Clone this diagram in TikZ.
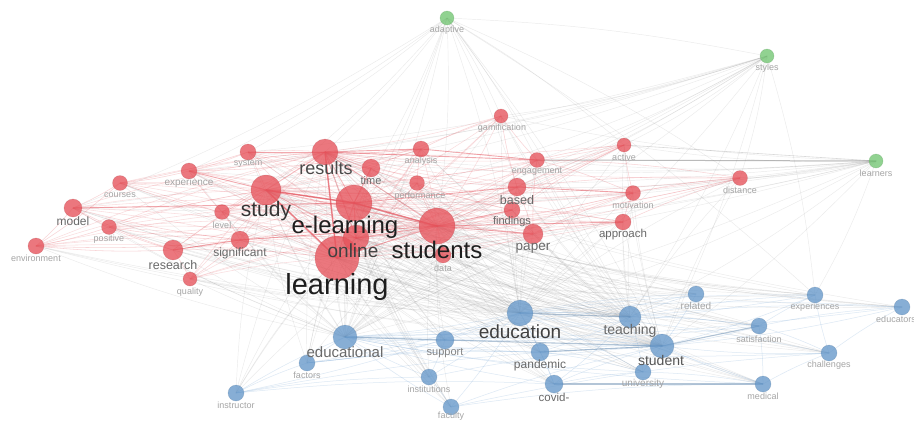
\documentclass[tikz,border=0pt]{standalone}
\usepackage{fontspec}
\setmainfont{Liberation Sans}
\usetikzlibrary{backgrounds}
\newcommand{\fsz}[1]{\fontsize{#1}{#1}\selectfont}
\definecolor{rfill}{RGB}{230,82,90}
\definecolor{bfill}{RGB}{102,152,202}
\definecolor{gfill}{RGB}{115,198,115}
\definecolor{redgec}{RGB}{228,85,95}
\definecolor{bedgec}{RGB}{110,160,210}
\definecolor{gedgec}{RGB}{130,130,130}
\definecolor{txL}{RGB}{30,30,30}
\definecolor{txM}{RGB}{105,105,105}
\definecolor{txS}{RGB}{165,165,165}
\tikzset{
  vn/.style={circle, inner sep=0pt, fill opacity=0.78, draw opacity=0.2, line width=0.6pt},
  rn/.style={vn, fill=rfill, draw=rfill!70!black},
  bn/.style={vn, fill=bfill, draw=bfill!70!black},
  gn/.style={vn, fill=gfill, draw=gfill!70!black},
  tl/.style={text=txL, inner sep=0pt},
  tm/.style={text=txM, inner sep=0pt},
  ts/.style={text=txS, inner sep=0pt, font=\fsz{9}},
  re/.style={draw=redgec, draw opacity=0.2, line width=0.55pt},
  rem/.style={draw=redgec, draw opacity=0.4, line width=0.9pt},
  reh/.style={draw=redgec, draw opacity=0.6, line width=1.5pt},
  ge/.style={draw=gedgec, draw opacity=0.16, line width=0.45pt},
  gem/.style={draw=gedgec, draw opacity=0.3, line width=0.6pt},
  be/.style={draw=bedgec, draw opacity=0.24, line width=0.5pt},
  beh/.style={draw=bedgec!80!black, draw opacity=0.45, line width=1.1pt},
}
\begin{document}
\begin{tikzpicture}[x=1pt,y=-1pt]
\useasboundingbox (0,0) rectangle (914,421);
% ---------- red cluster ----------
\node[rn, minimum size=44pt] (lrn) at (337,258) {};
\node[rn, minimum size=26pt] (onl) at (356,238) {};
\node[rn, minimum size=36pt] (ela) at (354,203) {};
\node[rn, minimum size=36pt] (stu) at (437,226) {};
\node[rn, minimum size=30pt] (sty) at (266,190) {};
\node[rn, minimum size=26pt] (res) at (325,152) {};
\node[rn, minimum size=18pt] (tim) at (371,168) {};
\node[rn, minimum size=16pt] (ana) at (421,149) {};
\node[rn, minimum size=15pt] (per) at (417,183) {};
\node[rn, minimum size=14pt] (gam) at (501,116) {};
\node[rn, minimum size=14pt] (act) at (624,145) {};
\node[rn, minimum size=15pt] (eng) at (537,160) {};
\node[rn, minimum size=15pt] (dis) at (740,178) {};
\node[rn, minimum size=15pt] (mot) at (633,193) {};
\node[rn, minimum size=16pt] (app) at (623,222) {};
\node[rn, minimum size=18pt] (bas) at (517,187) {};
\node[rn, minimum size=16pt] (fin) at (512,210) {};
\node[rn, minimum size=20pt] (pap) at (533,234) {};
\node[rn, minimum size=16pt] (sys) at (248,152) {};
\node[rn, minimum size=16pt] (exp) at (189,171) {};
\node[rn, minimum size=15pt] (cou) at (120,183) {};
\node[rn, minimum size=18pt] (mod) at (73,208) {};
\node[rn, minimum size=15pt] (pos) at (109,227) {};
\node[rn, minimum size=16pt] (env) at (36,246) {};
\node[rn, minimum size=15pt] (lev) at (222,212) {};
\node[rn, minimum size=18pt] (sig) at (240,240) {};
\node[rn, minimum size=20pt] (rsc) at (173,250) {};
\node[rn, minimum size=14pt] (qua) at (190,279) {};
\node[rn, minimum size=16pt] (dat) at (443,255) {};
% ---------- green cluster ----------
\node[gn, minimum size=14pt] (ada) at (447,18) {};
\node[gn, minimum size=14pt] (styl) at (767,56) {};
\node[gn, minimum size=14pt] (lrs) at (876,161) {};
% ---------- blue cluster ----------
\node[bn, minimum size=26pt] (edu) at (520,313) {};
\node[bn, minimum size=22pt] (tea) at (630,317) {};
\node[bn, minimum size=24pt] (stn) at (662,346) {};
\node[bn, minimum size=16pt] (rel) at (696,294) {};
\node[bn, minimum size=16pt] (exs) at (815,295) {};
\node[bn, minimum size=16pt] (eds) at (902,307) {};
\node[bn, minimum size=16pt] (sat) at (759,326) {};
\node[bn, minimum size=16pt] (cha) at (829,353) {};
\node[bn, minimum size=16pt] (med) at (763,384) {};
\node[bn, minimum size=16pt] (uni) at (643,372) {};
\node[bn, minimum size=18pt] (pan) at (540,352) {};
\node[bn, minimum size=18pt] (cov) at (554,384) {};
\node[bn, minimum size=18pt] (sup) at (445,340) {};
\node[bn, minimum size=24pt] (edl) at (345,337) {};
\node[bn, minimum size=16pt] (fac) at (307,363) {};
\node[bn, minimum size=16pt] (ins) at (429,377) {};
\node[bn, minimum size=16pt] (fcl) at (451,407) {};
\node[bn, minimum size=16pt] (inr) at (236,393) {};
% ---------- labels ----------
\node[tl, font=\fsz{29}] (t-lrn) at (337,287) {learning};
\node[tl, font=\fsz{24}] (t-ela) at (345,227) {e-learning};
\node[tl, font=\fsz{24}] (t-stu) at (437,250) {students};
\node[tl, font=\fsz{19}, text=txL!85!white] (t-onl) at (353,251) {online};
\node[tl, font=\fsz{21}, text=txL!90!white] (t-sty) at (266,211) {study};
\node[tl, font=\fsz{18}, text=txM!70!black] (t-res) at (326,168) {results};
\node[tm, font=\fsz{11}] (t-tim) at (371,181) {time};
\node[ts] (t-ana) at (421,161) {analysis};
\node[ts] (t-per) at (420,196) {performance};
\node[ts] (t-gam) at (502,128) {gamification};
\node[ts] (t-act) at (624,157) {active};
\node[ts] (t-eng) at (537,172) {engagement};
\node[ts] (t-dis) at (740,190) {distance};
\node[ts] (t-mot) at (633,205) {motivation};
\node[tm, font=\fsz{11.5}] (t-app) at (623,235) {approach};
\node[tm, font=\fsz{12.5}] (t-bas) at (517,200) {based};
\node[tm, font=\fsz{11}] (t-fin) at (512,222) {findings};
\node[tm, font=\fsz{13.5}] (t-pap) at (533,248) {paper};
\node[ts] (t-sys) at (248,164) {system};
\node[ts, font=\fsz{10}] (t-exp) at (189,183) {experience};
\node[ts] (t-cou) at (120,195) {courses};
\node[tm, font=\fsz{12}] (t-mod) at (73,221) {model};
\node[ts] (t-pos) at (109,239) {positive};
\node[ts] (t-env) at (36,258) {environment};
\node[ts] (t-lev) at (222,225) {level};
\node[tm, font=\fsz{12}] (t-sig) at (240,253) {significant};
\node[tm, font=\fsz{12.5}] (t-rsc) at (173,265) {research};
\node[ts] (t-qua) at (190,292) {quality};
\node[ts] (t-dat) at (443,268) {data};
\node[ts] (t-ada) at (447,30) {adaptive};
\node[ts] (t-styl) at (767,68) {styles};
\node[ts] (t-lrs) at (876,173) {learners};
\node[tl, font=\fsz{19}, text=txL!85!white] (t-edu) at (520,332) {education};
\node[tm, font=\fsz{14}] (t-tea) at (630,331) {teaching};
\node[tm, font=\fsz{14}, text=txM!80!black] (t-stn) at (661,360) {student};
\node[ts, font=\fsz{10}] (t-rel) at (696,306) {related};
\node[ts] (t-exs) at (815,307) {experiences};
\node[ts] (t-eds) at (896,319) {educators};
\node[ts] (t-sat) at (759,339) {satisfaction};
\node[ts] (t-cha) at (829,365) {challenges};
\node[ts] (t-med) at (763,396) {medical};
\node[ts, font=\fsz{10}] (t-uni) at (643,384) {university};
\node[tm, font=\fsz{12}] (t-pan) at (540,365) {pandemic};
\node[tm, font=\fsz{11.5}] (t-cov) at (554,397) {covid-};
\node[tm, font=\fsz{11}, text=txS!80!black] (t-sup) at (445,353) {support};
\node[tm, font=\fsz{15}] (t-edl) at (345,352) {educational};
\node[ts] (t-fac) at (307,375) {factors};
\node[ts] (t-ins) at (429,389) {institutions};
\node[ts] (t-fcl) at (451,416) {faculty};
\node[ts] (t-inr) at (236,405) {instructor};
% ---------- edges (background) ----------
\begin{pgfonlayer}{background}
\fill[white] (0,0) rectangle (914,421);
% gray long-range links
\foreach \a in {edu,tea,stn,rel,exs,eds,sat,cha,med,uni,pan,cov,sup,edl,fac,ins,fcl,inr}
  \foreach \b in {lrn,ela,stu,onl,sty,res}
    \draw[ge] (\a.center) to[bend left=6] (\b.center);
\foreach \a in {ada,styl,lrs}
  \foreach \b in {lrn,ela,stu,onl,sty,res,eng,act,bas,gam,edu,tea,stn,edl,dis,exs,sys,exp,mod}
    \draw[ge] (\a.center) to[bend left=5] (\b.center);
\foreach \a in {tim,ana,per,gam,act,eng,dis,mot,app,bas,fin,pap,sys,exp,cou,mod,pos,env,lev,sig,rsc,qua,dat}
  \foreach \b in {edu,tea,edl,stn}
    \draw[ge] (\a.center) to[bend right=5] (\b.center);
\draw[ge] (ada) to[bend left=4] (styl);
\draw[gem, draw opacity=0.55, line width=1pt] (lrs.center) -- (eng.center);
\draw[gem] (lrs.center) -- (act.center);
% blue links
\foreach \a in {tea,stn,rel,exs,eds,sat,cha,med,uni,pan,cov,sup,edl,fac,ins,fcl,inr}
  \draw[be] (edu.center) to[bend left=4] (\a.center);
\foreach \a in {rel,exs,eds,sat,cha,med,uni,pan,cov,sup,edl,fac,ins,fcl,inr}
  \draw[be] (stn.center) to[bend right=4] (\a.center);
\foreach \a in {rel,exs,eds,sat,cha,med,uni,pan,cov,sup,fac,ins,fcl,inr}
  \draw[be] (edl.center) to[bend right=4] (\a.center);
\foreach \a/\b in {tea/rel,tea/sat,tea/exs,tea/eds,tea/pan,tea/cov,tea/uni,sat/exs,sat/eds,sat/cha,sat/med,cha/eds,cha/exs,med/cha,uni/med,pan/cov,pan/uni,cov/uni,sup/ins,sup/fac,ins/fcl,inr/fac,inr/ins,fcl/cha,fcl/med,inr/cov,fac/pan}
  \draw[be] (\a.center) to[bend left=4] (\b.center);
\foreach \a/\b in {edl/sup,sup/stn,edu/tea,stn/sat,cov/med,pan/stn}
  \draw[beh] (\a.center) -- (\b.center);
% red links
\foreach \a in {tim,ana,per,gam,act,eng,dis,mot,app,bas,fin,pap,sys,exp,cou,mod,pos,env,lev,sig,rsc,qua,dat}
  \foreach \b in {lrn,ela,stu,onl,sty,res}
    \draw[re] (\a.center) to[bend left=4] (\b.center);
\foreach \a/\b in {env/mod,env/pos,env/rsc,env/cou,mod/pos,mod/cou,mod/rsc,cou/exp,exp/sys,exp/lev,lev/sty,pos/rsc,qua/rsc,qua/sig,sig/lev,tim/res,ana/per,ana/tim,per/stu,gam/eng,gam/bas,gam/ana,act/mot,act/bas,act/eng,dis/mot,dis/app,dis/eng,mot/app,mot/eng,app/pap,app/fin,bas/fin,fin/pap,dat/stu,dat/pap,sys/ana,exp/res,cou/sys,mod/sig,pap/bas,env/sig,pos/sig,cou/lev,sys/tim,exp/ana,tim/bas,per/fin,act/fin,mot/pap,eng/pap,dis/bas}
  \draw[re, draw opacity=0.25] (\a.center) to[bend right=4] (\b.center);
\foreach \a/\b in {lrn/ela,lrn/stu,lrn/onl,lrn/sty,lrn/res,ela/stu,ela/onl,ela/sty,ela/res,stu/onl,stu/sty,stu/res,onl/sty,onl/res,sty/res}
  \draw[rem] (\a.center) -- (\b.center);
\foreach \a/\b in {mod/ela,sys/res,res/ana,rsc/sig,sig/stu,eng/res,bas/ela,mot/bas,app/stu,pap/stu,exp/sty,tim/ela,ana/eng,fin/stu}
  \draw[rem, draw opacity=0.5] (\a.center) -- (\b.center);
\foreach \a/\b in {ela/stu,lrn/sty,sty/ela,res/lrn}
  \draw[reh] (\a.center) -- (\b.center);
\end{pgfonlayer}
\end{tikzpicture}
\end{document}
